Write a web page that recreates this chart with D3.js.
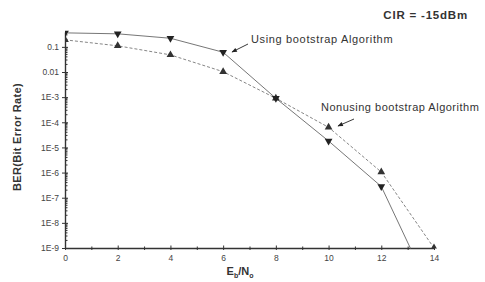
<!DOCTYPE html>
<meta charset="utf-8">
<style>
body { margin: 0; background: #fff; }
svg { font-family: "Liberation Sans", Arial, sans-serif; }
.tick text { fill: #444; font-size: 8.5px; }
.axis path, .axis line { stroke: #333; }
</style>
<body>
<script src="https://d3js.org/d3.v7.min.js" charset="utf-8"></script>
<script>

var width = 485,
    height = 282;

// Eb/No in dB
var snr = [0, 2, 4, 6, 8, 10, 12, 14];
// BER with bootstrap (last point falls below the axis and gets clipped)
var berUsing = [0.36, 0.33, 0.22, 0.061, 9e-4, 1.8e-5, 2.8e-7, 1e-11];
// BER without bootstrap
var berNonusing = [0.19, 0.11, 0.048, 0.0103, 9e-4, 6.3e-5, 1.05e-6, 1e-9];

var yTickValues = [1e-1, 1e-2, 1e-3, 1e-4, 1e-5, 1e-6, 1e-7, 1e-8, 1e-9];
var yTickLabels = ["0.1", "0.01", "1E-3", "1E-4", "1E-5", "1E-6", "1E-7", "1E-8", "1E-9"];

var margin = {top: 32, left: 65, right: 50, bottom: 34};

var x = d3.scaleLinear()
    .domain([0, 14])
    .range([margin.left, width - margin.right - 1]);

var y = d3.scaleLog()
    .domain([1e-9, 0.39])
    .range([height - margin.bottom, margin.top]);

var svg = d3.select("body").append("svg")
    .attr("width", width)
    .attr("height", height);

svg.append("clipPath").attr("id", "plot")
  .append("rect")
    .attr("x", margin.left)
    .attr("y", 0)
    .attr("width", x(14) - margin.left + 6)
    .attr("height", y(1e-9) + 0.5);

// minor ticks on the y axis (inside)
var minor = [];
for (var e = -9; e <= -1; e++) {
  for (var m = 2; m <= 9; m++) {
    var v = m * Math.pow(10, e);
    if (v <= 0.39) minor.push(v);
  }
}
svg.append("g")
  .selectAll("line")
  .data(minor)
  .enter().append("line")
    .attr("x1", x(0)).attr("x2", x(0) + 2.5)
    .attr("y1", d => y(d)).attr("y2", d => y(d))
    .attr("stroke", "#333");

var yAxis = svg.append("g")
    .attr("class", "axis")
    .attr("transform", `translate(${x(0)},0)`)
    .call(d3.axisLeft(y)
      .tickValues(yTickValues)
      .tickFormat((d, i) => yTickLabels[i])
      .tickSize(3)
      .tickSizeOuter(0));
yAxis.select(".domain").attr("stroke-width", 1.4);
yAxis.selectAll(".tick line").attr("x2", 3).attr("x1", -3);
yAxis.selectAll(".tick text").attr("x", -6);

var xAxis = svg.append("g")
    .attr("class", "axis")
    .attr("transform", `translate(0,${y(1e-9)})`)
    .call(d3.axisBottom(x)
      .tickValues(d3.range(0, 15, 1))
      .tickFormat(d => d % 2 ? "" : d)
      .tickSize(2)
      .tickSizeOuter(0));
xAxis.select(".domain").attr("stroke-width", 1.4);
xAxis.selectAll(".tick line").attr("y1", d => d % 2 ? -1.5 : -2.5).attr("y2", 2);
xAxis.selectAll(".tick text").attr("y", 7);

var line = d3.line()
    .x((d, i) => x(snr[i]))
    .y(d => y(d));

var plot = svg.append("g").attr("clip-path", "url(#plot)");

plot.append("path")
    .datum(berNonusing)
    .attr("fill", "none")
    .attr("stroke", "#777")
    .attr("stroke-width", 0.9)
    .attr("stroke-dasharray", "3,2")
    .attr("d", line);

plot.append("path")
    .datum(berUsing)
    .attr("fill", "none")
    .attr("stroke", "#666")
    .attr("stroke-width", 0.9)
    .attr("d", line);

var tri = d3.symbol().type(d3.symbolTriangle).size(26);

plot.selectAll(".up")
    .data(berNonusing)
  .enter().append("path")
    .attr("d", tri)
    .attr("fill", "#333")
    .attr("transform", (d, i) => `translate(${x(snr[i])},${y(d)})`);

plot.selectAll(".down")
    .data(berUsing)
  .enter().append("path")
    .attr("d", tri)
    .attr("fill", "#222")
    .attr("transform", (d, i) => `translate(${x(snr[i])},${y(d)}) rotate(180)`);

// annotations
svg.append("text")
    .attr("x", 468).attr("y", 19)
    .attr("text-anchor", "end")
    .attr("font-size", 11.5)
    .attr("letter-spacing", 0.8)
    .attr("font-weight", "bold")
    .attr("fill", "#333")
    .text("CIR = -15dBm");

svg.append("text")
    .attr("x", 251).attr("y", 43)
    .attr("font-size", 11)
    .attr("letter-spacing", 0.65)
    .attr("fill", "#333")
    .text("Using bootstrap Algorithm");

svg.append("text")
    .attr("x", 321).attr("y", 111)
    .attr("font-size", 11)
    .attr("letter-spacing", 0.5)
    .attr("fill", "#333")
    .text("Nonusing bootstrap Algorithm");

svg.append("defs").append("marker")
    .attr("id", "arrow")
    .attr("viewBox", "0 0 10 10")
    .attr("refX", 9).attr("refY", 5)
    .attr("markerWidth", 7).attr("markerHeight", 6)
    .attr("orient", "auto")
  .append("path")
    .attr("d", "M0,1L10,5L0,9z")
    .attr("fill", "#222");

var arrows = [[248, 44, 232, 52], [354, 119, 338, 126]];
svg.selectAll(".arrow")
    .data(arrows)
  .enter().append("line")
    .attr("x1", d => d[0]).attr("y1", d => d[1])
    .attr("x2", d => d[2]).attr("y2", d => d[3])
    .attr("stroke", "#222")
    .attr("stroke-width", 0.9)
    .attr("marker-end", "url(#arrow)");

// axis titles
svg.append("text")
    .attr("transform", "translate(21,137) rotate(-90)")
    .attr("text-anchor", "middle")
    .attr("font-size", 11)
    .attr("letter-spacing", 0.3)
    .attr("font-weight", "bold")
    .attr("fill", "#333")
    .text("BER(Bit Error Rate)");

var xt = svg.append("text")
    .attr("x", 240).attr("y", 275)
    .attr("text-anchor", "middle")
    .attr("font-size", 11)
    .attr("font-weight", "bold")
    .attr("fill", "#333");
xt.append("tspan").text("E");
xt.append("tspan").attr("font-size", 7).attr("dy", 3).text("b");
xt.append("tspan").attr("dy", -3).text("/N");
xt.append("tspan").attr("font-size", 7).attr("dy", 3).text("o");

</script>
